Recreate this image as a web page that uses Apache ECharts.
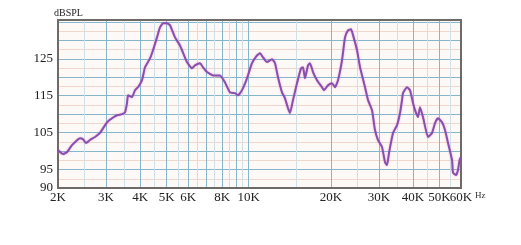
<!DOCTYPE html>
<html><head><meta charset="utf-8">
<script src="https://cdn.jsdelivr.net/npm/echarts@6/dist/echarts.min.js"></script>
<style>html,body{margin:0;padding:0;background:#fff}#c{width:521px;height:245px}</style>
</head><body><div id="c"></div>
<script>
// Frequency (Hz) and SPL (dB)
const freqs = [2000,2086,2158,2251,2408,2470,2533,2620,2733,2851,3024,3155,3291,3433,3521,3581,3611,3735,3831,3929,4064,4168,4348,4459,4612,4730,4852,5018,5147,5369,5600,5941,6197,6356,6630,6800,7033,7400,7849,8187,8540,8908,9137,9450,9857,10283,10726,11000,11282,11670,12174,12487,12806,13246,13585,13934,14170,14534,15034,15550,15815,16084,16496,16777,17207,17798,18565,18881,19529,20200,20718,21250,21981,22545,23123,23714,24120,24950,25590,26685,27380,28305,29034,29780,30803,31594,32133,32680,33804,34964,35860,36468,36778,38040,39020,40020,40700,41747,42458,43546,45423,46986,48191,49427,51125,52433,53777,55625,56100,57530,58510,59500,60000];
const spl = [100.3,99.2,99.7,101.6,103.5,103.2,102.2,103.0,103.8,104.9,107.8,108.9,109.7,110.0,110.5,113.0,115.1,114.6,116.5,117.3,119.2,122.7,125.1,127.3,130.8,133.5,134.6,134.6,134.1,130.8,128.6,124.1,122.4,123.2,123.8,122.7,121.4,120.5,120.5,118.6,115.9,115.7,115.1,116.5,119.7,123.8,125.9,126.5,125.4,124.1,124.9,123.8,120.0,115.9,114.3,111.6,110.3,113.8,118.4,122.4,122.7,119.7,123.2,123.8,121.4,119.2,117.3,116.5,117.8,118.4,117.3,119.2,124.6,130.8,132.7,133.0,131.4,127.3,122.7,117.3,113.8,111.1,105.7,103.0,101.1,97.0,96.2,99.5,104.9,107.0,110.3,113.8,115.7,117.3,116.5,113.0,111.1,109.2,111.9,109.2,103.8,104.9,107.6,108.9,107.8,105.7,102.2,97.6,94.1,93.5,94.9,98.1,97.6];

const xTickValues = [2000,3000,4000,5000,6000,7000,8000,9000,10000,20000,30000,40000,50000,60000];
const xLabelValues = [2000,3000,4000,5000,6000,8000,10000,20000,30000,40000,50000];
const xEndLabelValues = [60000];
const xMinorValues = [2500,3500,4500,5500,6500,7500,8500,9500,15000,25000,35000,45000,55000];
const yTickValues = [90,95,100,105,110,115,120,125,130,135];
const yLabelValues = [90,95,105,115,125];
const yMinorValues = [92.5,97.5,102.5,107.5,112.5,117.5,122.5,127.5,132.5];

const serif = '"Liberation Serif", "DejaVu Serif", serif';
const kFmt = v => (v / 1000) + 'K';
const xLabelStyle = {fontFamily: serif, fontSize: 13, color: '#222', margin: 3, hideOverlap: false, formatter: kFmt};
const chart = echarts.init(document.getElementById('c'));
chart.setOption({
  animation: false,
  title: {text: 'dBSPL', left: 49, top: 3, textStyle: {fontFamily: serif, fontSize: 10, fontWeight: 'normal', color: '#222'}},
  grid: {left: 58, right: 60, top: 20, bottom: 57, show: true, backgroundColor: '#fdf9f7', borderColor: 'transparent', borderWidth: 0},
  xAxis: [
    {type: 'log', logBase: 10, min: 2000, max: 60000,
     name: 'Hz', nameLocation: 'end', nameGap: 14,
     nameTextStyle: {fontFamily: serif, fontSize: 9, color: '#333', verticalAlign: 'top', padding: [3, 0, 0, 0]},
     axisLine: {show: false},
     axisTick: {show: false, customValues: xTickValues},
     axisLabel: Object.assign({customValues: xLabelValues}, xLabelStyle),
     splitLine: {show: true, showMinLine: false, showMaxLine: false, lineStyle: {color: '#86b6cc', width: 1}}},
    {type: 'log', logBase: 10, min: 2000, max: 60000, show: true, position: 'bottom',
     axisLine: {show: false},
     axisLabel: Object.assign({customValues: xEndLabelValues}, xLabelStyle),
     axisTick: {show: false, customValues: xMinorValues},
     splitLine: {show: true, lineStyle: {color: '#cfe0e8', width: 1}}}
  ],
  yAxis: [
    {type: 'value', min: 90, max: 135.5, interval: 5,
     axisLine: {show: false},
     axisTick: {show: false, customValues: yTickValues},
     axisLabel: {customValues: yLabelValues, fontFamily: serif, fontSize: 13, color: '#222', margin: 5},
     splitLine: {show: true, showMinLine: false, lineStyle: {color: '#86b6cc', width: 1}}},
    {type: 'value', min: 90, max: 135.5, show: true,
     axisLine: {show: false}, axisLabel: {show: false},
     axisTick: {show: false, customValues: yMinorValues},
     splitLine: {show: true, lineStyle: {color: '#f1d6cc', width: 1}}}
  ],
  series: [
    {type: 'line', xAxisIndex: 0, yAxisIndex: 0, showSymbol: false, smooth: 0.15,
     data: freqs.map((f, i) => [f, spl[i]]),
     lineStyle: {color: '#8550b0', width: 2, shadowColor: 'rgba(230,90,170,0.5)', shadowBlur: 2},
     z: 5},
    {type: 'line', xAxisIndex: 0, yAxisIndex: 0, silent: true, data: [],
     markArea: {silent: true, itemStyle: {color: 'transparent', borderColor: '#6e6a68', borderWidth: 2},
       data: [[{coord: [2000, 90]}, {coord: [60000, 135.5]}]]},
     z: 6}
  ]
});
</script></body></html>
